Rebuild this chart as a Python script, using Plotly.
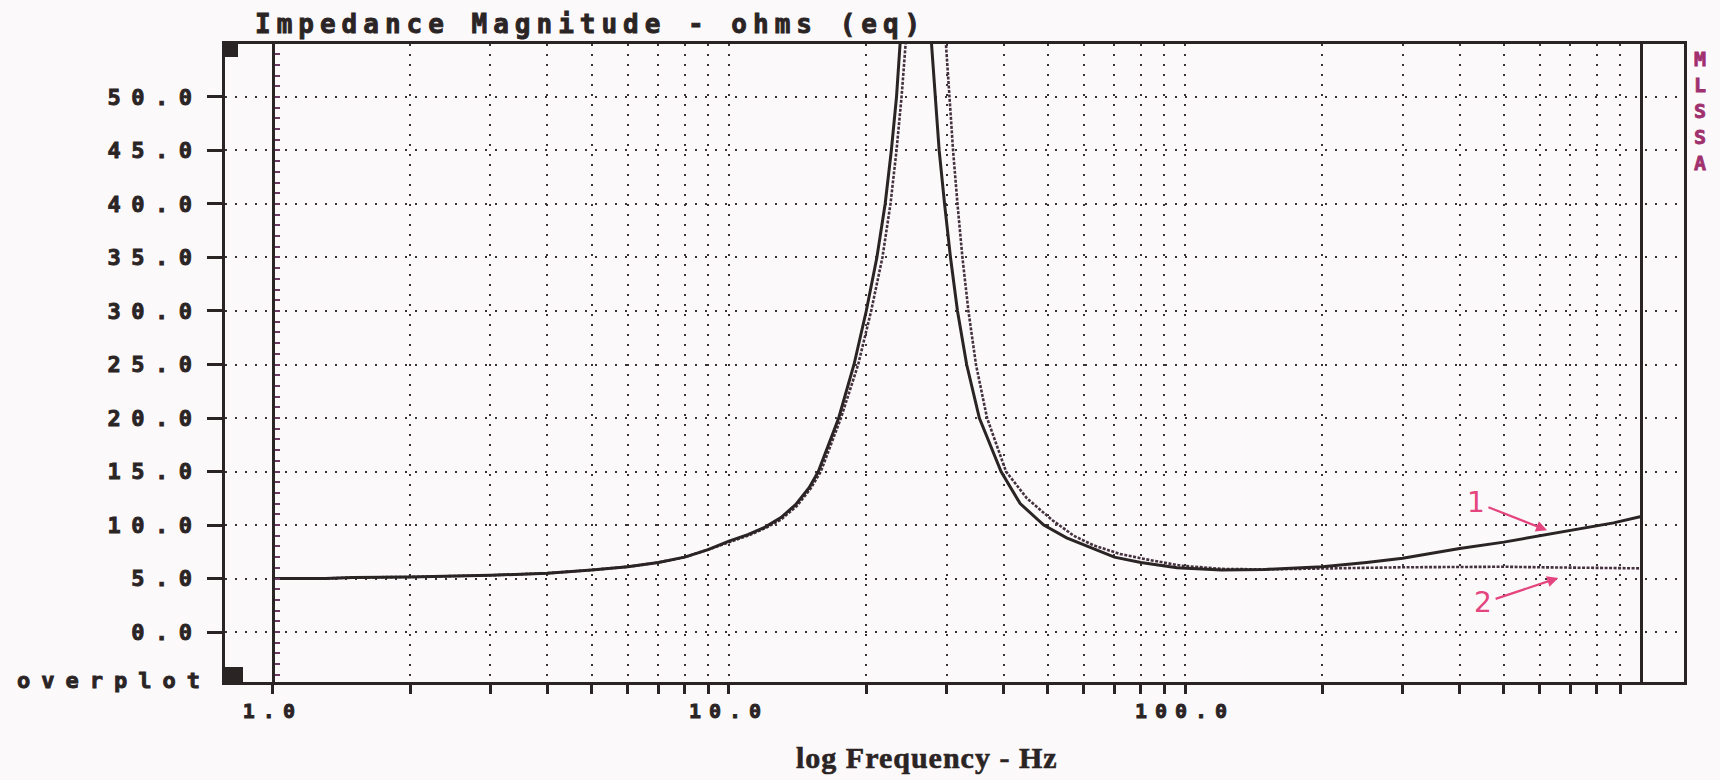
import math
import plotly.graph_objects as go

# ---------------- data ----------------
freq_1 = [1.0, 1.3, 1.5, 2, 3, 4, 5, 6, 7, 8, 9, 10, 11, 12, 13, 14, 15, 15.7, 17.4,
          18.8, 20.0, 21.1, 22.0, 22.7, 23.3, 23.8, 24.6, 25.8, 27.0, 27.8, 28.3, 28.9,
          29.7, 30.6, 31.7, 33.2, 35.4, 39.5, 43.5, 49, 55, 61, 70, 80, 96, 120, 150,
          200, 250, 300, 400, 500, 600, 750, 870, 1000]
z_1 = [5.0, 5.0, 5.1, 5.15, 5.3, 5.5, 5.8, 6.1, 6.5, 7.0, 7.7, 8.5, 9.1, 9.8, 10.7,
       11.9, 13.5, 15.0, 20.0, 25.0, 30.0, 35.0, 40.0, 45.0, 50.0, 55.0, 65.0, 72.0,
       65.0, 55.0, 50.0, 45.0, 40.0, 35.0, 30.0, 25.0, 20.0, 15.0, 12.0, 10.0, 8.8,
       8.0, 7.0, 6.5, 6.0, 5.8, 5.85, 6.1, 6.5, 6.9, 7.8, 8.4, 9.0, 9.7, 10.2, 10.8]

freq_2 = [1.0, 1.3, 1.5, 2, 3, 4, 5, 6, 7, 8, 9, 10, 11, 12, 13, 14.1, 15.1, 15.9,
          17.6, 19.2, 20.5, 21.7, 22.6, 23.3, 23.9, 24.4, 25.5, 27.0, 28.8, 29.9, 30.4,
          31.0, 31.7, 32.5, 33.5, 34.8, 36.8, 40.5, 45, 51, 57, 63, 72, 82, 98, 120,
          150, 200, 250, 300, 400, 500, 600, 750, 870, 1000]
z_2 = [5.0, 5.0, 5.1, 5.15, 5.3, 5.5, 5.8, 6.1, 6.5, 7.0, 7.7, 8.4, 9.0, 9.7, 10.5,
       11.8, 13.4, 15.0, 20.0, 25.0, 30.0, 35.0, 40.0, 45.0, 50.0, 55.0, 65.0, 72.0,
       65.0, 55.0, 50.0, 45.0, 40.0, 35.0, 30.0, 25.0, 20.0, 15.0, 12.5, 10.5, 9.0,
       8.1, 7.3, 6.8, 6.2, 5.9, 5.85, 5.9, 6.0, 6.05, 6.1, 6.1, 6.05, 6.0, 6.0, 5.95]

y_ticks = [0, 5, 10, 15, 20, 25, 30, 35, 40, 45, 50]
y_tick_labels = ["0.0", "5.0", "10.0", "15.0", "20.0", "25.0", "30.0", "35.0",
                 "40.0", "45.0", "50.0"]
x_ticks = [1, 2, 3, 4, 5, 6, 7, 8, 9, 10, 20, 30, 40, 50, 60, 70, 80, 90,
           100, 200, 300, 400, 500, 600, 700, 800, 900]
x_labelled = {1: "1.0", 10: "10.0", 100: "100.0"}

title_text = "Impedance Magnitude - ohms (eq)"
x_title_text = "log Frequency - Hz"
side_text = "MLSSA"
corner_text = "overplot"
curve_labels = ["1", "2"]
# annotation arrow tips (Hz, ohms)
arrow_tips_f = [622, 658]
arrow_tips_z = [9.5, 5.05]

# ---------------- styling ----------------
INK = "#2b2424"
GRID = "#3a3333"
PINK = "#e4457e"
PURPLE = "#a0306e"
BG = "#fcf9fa"
MONO = "DejaVu Sans Mono, Liberation Mono, monospace"
SERIF = "Liberation Serif, DejaVu Serif, serif"

x_range = [-0.105, 3.094]          # log10 Hz
y_range = [-4.67, 54.95]


def spaced(t, sp, color=INK, sw=0.9):
    return (f'<span style="letter-spacing:{sp}px;stroke:{color};'
            f'stroke-width:{sw}px">{t}</span>')


fig = go.Figure()

fig.add_trace(go.Scatter(
    x=freq_2, y=z_2, mode="lines", name="2",
    line=dict(color="#45323f", width=2.6, dash="3px,1.5px"),
    showlegend=False,
))
fig.add_trace(go.Scatter(
    x=freq_1, y=z_1, mode="lines", name="1",
    line=dict(color=INK, width=3),
    showlegend=False,
))

x_text = [spaced(x_labelled[v], 8) if v in x_labelled else "" for v in x_ticks]
y_text = [spaced(t, 10.5) for t in y_tick_labels]

fig.update_xaxes(
    type="log", range=x_range,
    tickmode="array", tickvals=x_ticks, ticktext=x_text,
    ticks="outside", ticklen=9, tickwidth=3, tickcolor=INK,
    showline=True, linewidth=3, linecolor=INK, mirror=True,
    showgrid=True, gridcolor=GRID, gridwidth=2.2, griddash="2px,8px",
    tickfont=dict(family=MONO, size=20, color=INK, weight="bold"),
    zeroline=False,
)
fig.update_yaxes(
    range=y_range,
    tickmode="array", tickvals=y_ticks, ticktext=y_text,
    ticks="outside", ticklen=15, tickwidth=3, tickcolor=INK,
    showline=True, linewidth=3, linecolor=INK, mirror=True,
    showgrid=True, gridcolor=GRID, gridwidth=2.2, griddash="2px,8px",
    tickfont=dict(family=MONO, size=22, color=INK, weight="bold"),
    zeroline=False,
)

pos_1hz = (math.log10(1) - x_range[0]) / (x_range[1] - x_range[0])
pos_1khz = (math.log10(1000) - x_range[0]) / (x_range[1] - x_range[0])

fig.update_layout(
    yaxis2=dict(overlaying="y", anchor="free", position=pos_1hz, side="right",
                range=y_range, showline=True, linewidth=2.5, linecolor=INK,
                ticks="outside", ticklen=5, tickwidth=1.5, tickcolor="#6a3a60",
                tick0=0, dtick=1, showticklabels=False, showgrid=False,
                zeroline=False),
    yaxis3=dict(overlaying="y", anchor="free", position=pos_1khz, side="right",
                range=y_range, showline=True, linewidth=3, linecolor=INK,
                ticks="", showticklabels=False, showgrid=False, zeroline=False),
)

# invisible helper traces so the extra axes are drawn
fig.add_trace(go.Scatter(x=[freq_1[0]], y=[z_1[0]], yaxis="y2", mode="markers",
                         marker=dict(opacity=0), showlegend=False, hoverinfo="skip"))
fig.add_trace(go.Scatter(x=[freq_1[0]], y=[z_1[0]], yaxis="y3", mode="markers",
                         marker=dict(opacity=0), showlegend=False, hoverinfo="skip"))

annotations = [
    dict(text=spaced(title_text, 6.0), xref="paper", yref="paper", x=0, y=1,
         xanchor="left", yanchor="bottom", xshift=28, yshift=3, showarrow=False,
         font=dict(family=MONO, size=26, color=INK, weight="bold")),
    dict(text=spaced(x_title_text, 1, sw=0.6), xref="paper", yref="paper", x=0.481,
         y=0, xanchor="center", yanchor="middle", yshift=-75, showarrow=False,
         font=dict(family=SERIF, size=30, color=INK, weight="bold")),
    dict(text=spaced("<br>".join(side_text), 0, color=PURPLE, sw=0.8),
         xref="paper", yref="paper", x=1, y=1,
         xanchor="center", yanchor="top", xshift=16, yshift=-1, showarrow=False,
         font=dict(family=MONO, size=20, color=PURPLE, weight="bold")),
    dict(text=spaced(corner_text, 11), xref="paper", yref="paper", x=0, y=0,
         xanchor="right", yanchor="middle", xshift=-12, yshift=2, showarrow=False,
         font=dict(family=MONO, size=22, color=INK, weight="bold")),
]
offsets = [(-71, -28), (-75, 25)]
for lab, f, z, (ax, ay) in zip(curve_labels, arrow_tips_f, arrow_tips_z, offsets):
    annotations.append(dict(
        text=lab, x=math.log10(f), y=z, xref="x", yref="y",
        showarrow=True, ax=ax, ay=ay, arrowcolor=PINK, arrowwidth=2.2,
        arrowhead=2, arrowsize=1, standoff=0, startstandoff=2,
        font=dict(family="DejaVu Sans, sans-serif", size=28, color=PINK),
    ))

shapes = [
    dict(type="rect", xref="paper", yref="paper", x0=0, x1=13 / 1459,
         y0=1 - 13 / 638, y1=1, fillcolor=INK, line=dict(width=0)),
    dict(type="rect", xref="paper", yref="paper", x0=0, x1=18 / 1459,
         y0=0, y1=15 / 638, fillcolor=INK, line=dict(width=0)),
]

fig.update_layout(
    width=1720, height=780, autosize=False,
    margin=dict(l=225, r=36, t=44, b=98),
    paper_bgcolor=BG, plot_bgcolor=BG,
    annotations=annotations, shapes=shapes,
    showlegend=False,
)

fig.write_html("out.html", config={"displayModeBar": False},
               post_script="document.body.style.margin='0px';")
